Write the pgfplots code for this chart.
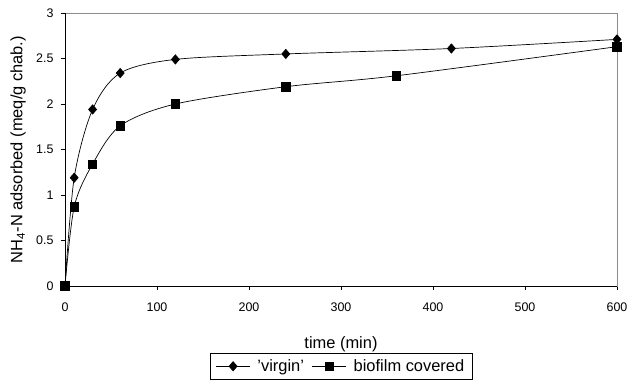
\documentclass[border=0pt]{standalone}
\usepackage{fontspec}
\setmainfont{Liberation Sans}
\usepackage{pgfplots}
\pgfplotsset{compat=1.18}
\begin{document}
\begin{tikzpicture}
\useasboundingbox (-65bp,-97bp) rectangle (564bp,286bp);
\begin{axis}[
  scale only axis,
  width=552bp, height=273bp,
  xmin=0, xmax=600, ymin=0, ymax=3,
  xtick={0,100,...,600},
  ytick={0,0.5,...,3},
  tick pos=left,
  tick align=outside,
  major tick length=4bp,
  axis line style={black!45, line width=0.6pt},
  tick style={black, line width=0.6pt},
  /pgf/number format/assume math mode=true,
  tick label style={font=\fontsize{12.5}{14}\selectfont},
  xticklabel style={yshift=-9bp},
  yticklabel style={xshift=-4bp},
  label style={font=\fontsize{16.5}{19}\selectfont},
  xlabel={time (min)},
  ylabel={NH\textsubscript{4}-N adsorbed (meq/g chab.)},
  xlabel style={at={(axis description cs:0.5,0)}, anchor=center, yshift=-58bp},
  ylabel style={at={(axis description cs:-0.085,0.5)}, anchor=center},
  legend columns=2,
  legend style={at={(0.5,-0.294)}, anchor=center, draw=black, line width=0.5pt,
    font=\fontsize{16.5}{19}\selectfont, inner xsep=6bp, inner ysep=4bp,
    /tikz/every odd column/.append style={column sep=5bp},
    /tikz/every even column/.append style={column sep=6bp}},
  legend image code/.code={
    \draw[mark repeat=2, mark phase=2, #1] plot coordinates {(0bp,0bp) (17bp,0bp) (34bp,0bp)};
  },
]
\addplot[black, line width=0.7pt, smooth, tension=0.5, mark=diamond*, mark size=4.6bp, mark options={solid, xscale=1.15}]
coordinates {(0,0) (10,1.19) (30,1.94) (60,2.34) (120,2.49) (240,2.55) (420,2.61) (600,2.71)};
\addlegendentry{'virgin'}
\addplot[black, line width=0.7pt, smooth, tension=0.5, mark=square*, mark size=4.2bp, mark options={solid}]
coordinates {(0,0) (10,0.87) (30,1.34) (60,1.76) (120,2.00) (240,2.19) (360,2.31) (600,2.63)};
\addlegendentry{biofilm covered}
\draw[black, line width=0.6pt] (rel axis cs:0,1) -- (rel axis cs:0,0) -- (rel axis cs:1,0);
\end{axis}
\end{tikzpicture}
\end{document}
